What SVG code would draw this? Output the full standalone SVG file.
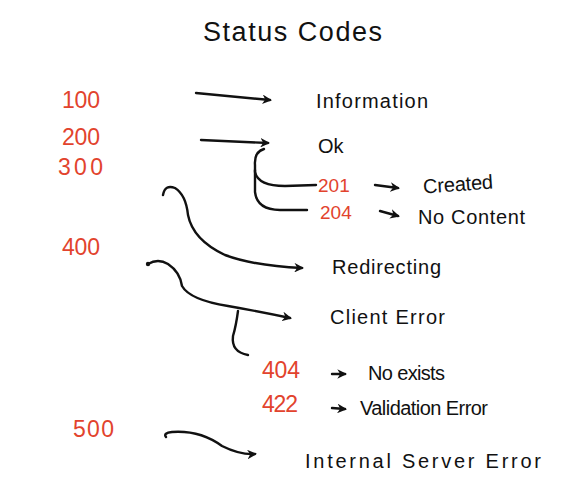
<svg xmlns="http://www.w3.org/2000/svg" width="587" height="503" viewBox="0 0 587 503">
<style>
text{font-family:"Liberation Sans","DejaVu Sans",sans-serif;font-size:20px;fill:#111}
.code{fill:#e2432d;font-size:23px}
.sub{fill:#e2432d;font-size:19px}
.title{font-size:27px}
.c{fill:none;stroke:#111;stroke-width:2.4;stroke-linecap:round;stroke-linejoin:round}
</style>
<defs>
<marker id="ah" viewBox="0 0 10 10" refX="8" refY="5" markerWidth="4" markerHeight="4" orient="auto" markerUnits="strokeWidth">
<path d="M0,0 L10,5 L0,10 L3,5 Z" fill="#111"/>
</marker>
</defs>
<rect width="587" height="503" fill="#fff"/>
<g id="title"><text class="title" x="203" y="41" textLength="179" lengthAdjust="spacing">Status  Codes</text></g>
<g id="codes">
<text class="code" x="62" y="108" textLength="38" lengthAdjust="spacing">100</text>
<text class="code" x="62" y="145" textLength="38" lengthAdjust="spacing">200</text>
<text class="code" x="58" y="175" textLength="45" lengthAdjust="spacing">300</text>
<text class="code" x="62" y="255" textLength="38" lengthAdjust="spacing">400</text>
<text class="code" x="73" y="437" textLength="41" lengthAdjust="spacing">500</text>
</g>
<g id="n-information"><text x="316" y="108" textLength="112" lengthAdjust="spacing">Information</text></g>
<g id="n-ok"><text x="318" y="153">Ok</text></g>
<g id="n-201"><text class="sub" x="318" y="192">201</text></g>
<g id="n-204"><text class="sub" x="320" y="219">204</text></g>
<g id="n-created"><text x="423" y="191" textLength="70" lengthAdjust="spacing" transform="rotate(-4 458 184)">Created</text></g>
<g id="n-nocontent"><text x="418" y="224" textLength="107" lengthAdjust="spacing">No Content</text></g>
<g id="n-redirecting"><text x="332" y="274" textLength="109" lengthAdjust="spacing">Redirecting</text></g>
<g id="n-clienterror"><text x="330" y="324" textLength="115" lengthAdjust="spacing">Client  Error</text></g>
<g id="n-404"><text class="code" x="262" y="378" textLength="38" lengthAdjust="spacing">404</text></g>
<g id="n-422"><text class="code" x="262" y="412" textLength="36" lengthAdjust="spacing">422</text></g>
<g id="n-noexists"><text x="368" y="380" textLength="77" lengthAdjust="spacing">No exists</text></g>
<g id="n-validation"><text x="360" y="415" textLength="128" lengthAdjust="spacing">Validation Error</text></g>
<g id="n-ise"><text x="305" y="468" textLength="236" lengthAdjust="spacing">Internal    Server    Error</text></g>
<g id="connectors">
<path class="c" d="M196,93 L270,100" marker-end="url(#ah)"/>
<path class="c" d="M201,140 L268,143" marker-end="url(#ah)"/>
<path class="c" d="M264,149 Q254,152 255,165 L255,172 Q258,186 285,186 L316,185"/>
<path class="c" d="M255,170 L255,192 Q257,210 280,210 L307,210"/>
<path class="c" d="M375,185 L398,188" marker-end="url(#ah)"/>
<path class="c" d="M380,211 L398,216" marker-end="url(#ah)"/>
<path class="c" d="M163,195 Q165,184 175,188 Q186,195 188,215 Q193,240 225,255 Q255,266 302,268" marker-end="url(#ah)"/>
<path class="c" d="M148,264 Q158,258 168,264 Q180,272 182,286 Q190,300 228,306 Q262,312 290,318" marker-end="url(#ah)"/>
<circle cx="148" cy="264" r="2.2" fill="#111"/>
<path class="c" d="M238,311 Q236,326 233,336 Q231,352 248,355"/>
<path class="c" d="M332,374 L345,374" marker-end="url(#ah)"/>
<path class="c" d="M332,408 L345,409" marker-end="url(#ah)"/>
<path class="c" d="M166,437 Q163,433 172,432 Q200,430 222,446 Q240,455 255,454" marker-end="url(#ah)"/>
</g>
</svg>
